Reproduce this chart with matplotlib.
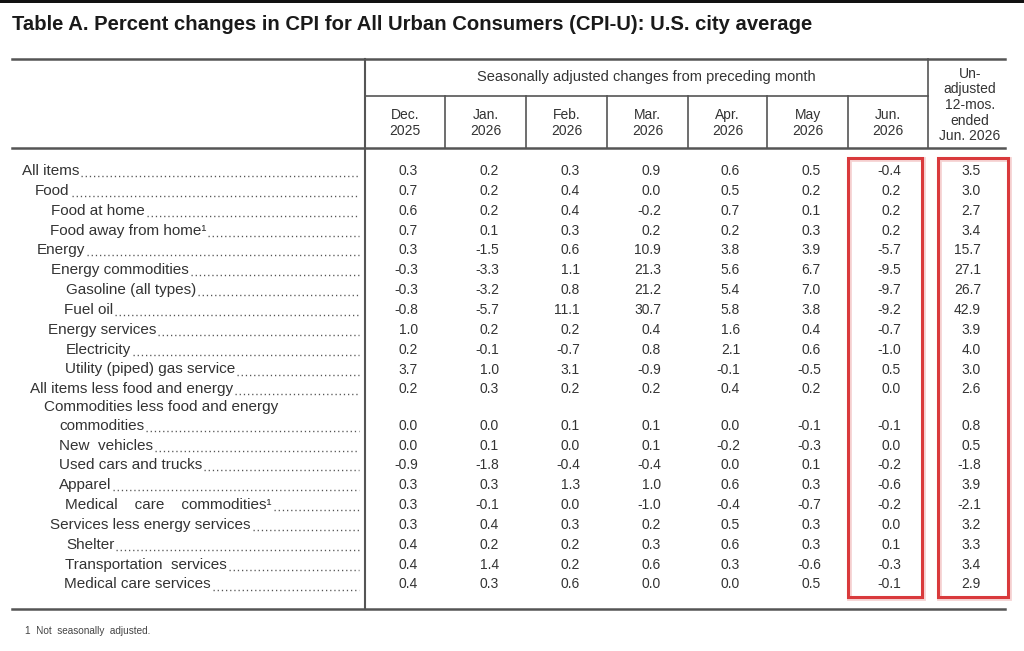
import numpy as np
import matplotlib
matplotlib.use('Agg')
import matplotlib.pyplot as plt
from matplotlib.patches import Rectangle

# --- table data ---
TITLE = 'Table A. Percent changes in CPI for All Urban Consumers (CPI-U): U.S. city average'
SPANNER = 'Seasonally adjusted changes from preceding month'
COL_HEADERS = ['Dec.\n2025', 'Jan.\n2026', 'Feb.\n2026', 'Mar.\n2026', 'Apr.\n2026',
               'May\n2026', 'Jun.\n2026']
YOY_HEADER = 'Un-\nadjusted\n12-mos.\nended\nJun. 2026'
FOOTNOTE = '1  Not  seasonally  adjusted.'

labels = ['All items', 'Food', 'Food at home', 'Food away from home\u00b9', 'Energy',
          'Energy commodities', 'Gasoline (all types)', 'Fuel oil', 'Energy services',
          'Electricity', 'Utility (piped) gas service', 'All items less food and energy',
          'commodities', 'New  vehicles', 'Used cars and trucks', 'Apparel',
          'Medical    care    commodities\u00b9', 'Services less energy services', 'Shelter',
          'Transportation  services', 'Medical care services']
# left edge of each label (indent level as drawn)
label_x = [22, 35, 51, 50, 37, 51, 66, 64, 48, 66, 65, 30, 59, 59, 59, 59, 65, 50, 66, 65, 64]

dec = [0.3, 0.7, 0.6, 0.7, 0.3, -0.3, -0.3, -0.8, 1.0, 0.2, 3.7, 0.2, 0.0, 0.0, -0.9, 0.3, 0.3, 0.3, 0.4, 0.4, 0.4]
jan = [0.2, 0.2, 0.2, 0.1, -1.5, -3.3, -3.2, -5.7, 0.2, -0.1, 1.0, 0.3, 0.0, 0.1, -1.8, 0.3, -0.1, 0.4, 0.2, 1.4, 0.3]
feb = [0.3, 0.4, 0.4, 0.3, 0.6, 1.1, 0.8, 11.1, 0.2, -0.7, 3.1, 0.2, 0.1, 0.0, -0.4, 1.3, 0.0, 0.3, 0.2, 0.2, 0.6]
mar = [0.9, 0.0, -0.2, 0.2, 10.9, 21.3, 21.2, 30.7, 0.4, 0.8, -0.9, 0.2, 0.1, 0.1, -0.4, 1.0, -1.0, 0.2, 0.3, 0.6, 0.0]
apr = [0.6, 0.5, 0.7, 0.2, 3.8, 5.6, 5.4, 5.8, 1.6, 2.1, -0.1, 0.4, 0.0, -0.2, 0.0, 0.6, -0.4, 0.5, 0.6, 0.3, 0.0]
may = [0.5, 0.2, 0.1, 0.3, 3.9, 6.7, 7.0, 3.8, 0.4, 0.6, -0.5, 0.2, -0.1, -0.3, 0.1, 0.3, -0.7, 0.3, 0.3, -0.6, 0.5]
jun = [-0.4, 0.2, 0.2, 0.2, -5.7, -9.5, -9.7, -9.2, -0.7, -1.0, 0.5, 0.0, -0.1, 0.0, -0.2, -0.6, -0.2, 0.0, 0.1, -0.3, -0.1]
yoy = [3.5, 3.0, 2.7, 3.4, 15.7, 27.1, 26.7, 42.9, 3.9, 4.0, 3.0, 2.6, 0.8, 0.5, -1.8, 3.9, -2.1, 3.2, 3.3, 3.4, 2.9]

columns = [dec, jan, feb, mar, apr, may, jun, yoy]

# --- layout (pixel coordinates) ---
W, H = 1024, 651
col_edges = [365, 445, 526, 607, 688, 767, 848, 928, 1008]
TXT = '#333333'
LINE = '#555555'
RED = '#d93a3c'

plt.rcParams['font.family'] = ['Liberation Sans', 'DejaVu Sans']

fig = plt.figure(figsize=(W / 100, H / 100), dpi=100)
ax = fig.add_axes([0, 0, 1, 1])
ax.set_xlim(0, W)
ax.set_ylim(H, 0)
ax.axis('off')

# dark strip along the top of the screenshot
ax.add_patch(Rectangle((0, 0), W, 3, color='#111111', lw=0))

ax.text(12, 25, TITLE, fontsize=14.6, fontweight='bold', color='#1a1a1a',
        va='center', ha='left')

# rules
ax.plot([12, 1005], [59, 59], color=LINE, lw=1.8)
ax.plot([12, 1005], [148, 148], color=LINE, lw=1.8)
ax.plot([12, 1005], [609, 609], color=LINE, lw=1.8)
ax.plot([365, 928], [96, 96], color=LINE, lw=1.2)
ax.plot([365, 365], [59, 609], color=LINE, lw=1.5)
ax.plot([928, 928], [59, 148], color=LINE, lw=1.2)
for x in col_edges[1:-2]:
    ax.plot([x, x], [96, 148], color=LINE, lw=1.2)

# headers
ax.text((365 + 928) / 2, 77, SPANNER, fontsize=10.5, color=TXT, ha='center', va='center')
for i, h in enumerate(COL_HEADERS):
    cx = (col_edges[i] + col_edges[i + 1]) / 2
    ax.text(cx, 123, h, fontsize=10, color=TXT, ha='center', va='center',
            linespacing=1.2, multialignment='center')
ax.text(970, 105, YOY_HEADER, fontsize=10, color=TXT, ha='center', va='center',
        linespacing=1.15, multialignment='center')

# row positions
row_y = []
for i in range(len(labels)):
    y = 171 + 19.85 * i
    if i >= 12:
        y += 16.5
    row_y.append(y)

ax.text(44, 407, 'Commodities less food and energy', fontsize=11, color=TXT,
        ha='left', va='center')

label_texts = []
for lab, lx, y in zip(labels, label_x, row_y):
    t = ax.text(lx, y, lab, fontsize=11, color=TXT, ha='left', va='center')
    label_texts.append(t)

# values, right aligned in each column
for c, vals in enumerate(columns):
    rx = col_edges[c + 1] - 27
    for v, y in zip(vals, row_y):
        ax.text(rx, y, f'{v:.1f}', fontsize=10, color=TXT, ha='right', va='center')

# leader dots after each label
fig.canvas.draw()
inv = ax.transData.inverted()
for t, y in zip(label_texts, row_y):
    bb = t.get_window_extent()
    x_end = inv.transform((bb.x1, bb.y0))[0]
    ax.plot([x_end + 2, 359], [y + 5, y + 5], color='#555555', lw=1.0,
            linestyle=(0, (0.9, 2.1)), dash_capstyle='butt')

# highlight boxes around the last two columns
for x0, x1 in [(848, 922), (938, 1008)]:
    ax.add_patch(Rectangle((x0 + 1, 159), x1 - x0, 439, fill=False,
                           edgecolor='#f0b8b8', lw=3.5, alpha=0.6))
    ax.add_patch(Rectangle((x0, 158), x1 - x0, 439, fill=False, edgecolor=RED, lw=2.2))

ax.text(25, 631, FOOTNOTE, fontsize=7.2, color='#444444', ha='left', va='center')

fig.savefig('out.png', dpi=100)
